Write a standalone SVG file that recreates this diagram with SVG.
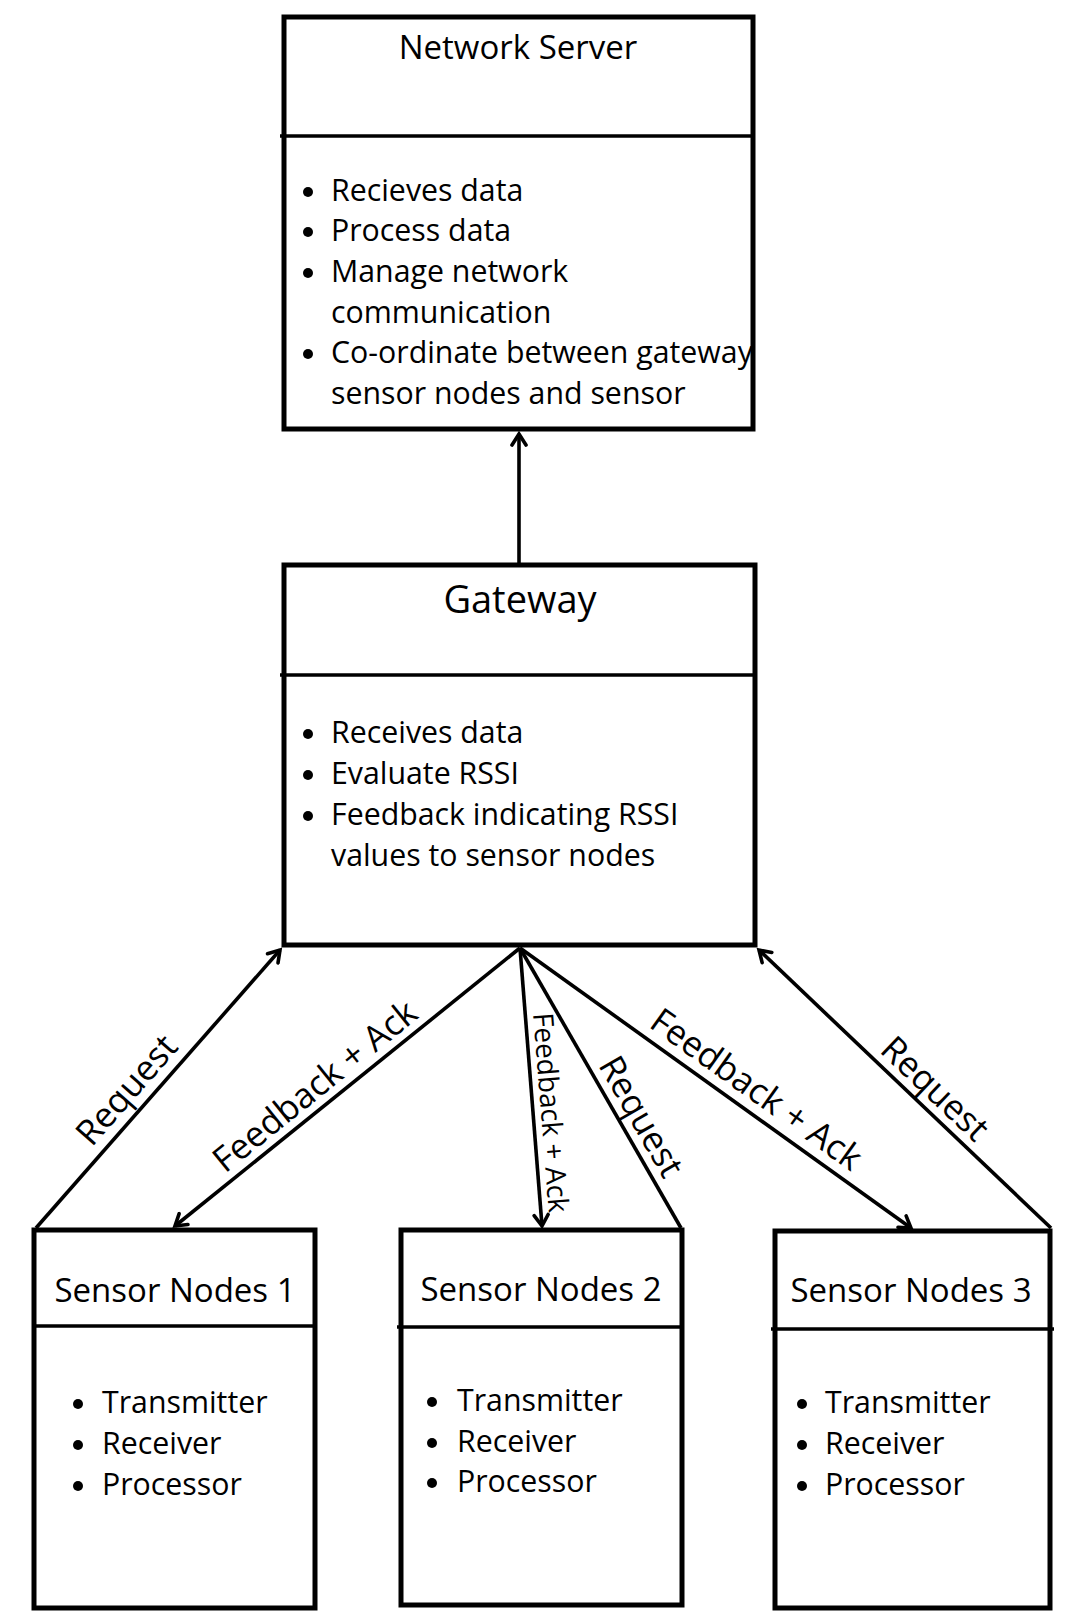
<svg xmlns="http://www.w3.org/2000/svg" width="1080" height="1616" viewBox="0 0 1080 1616">
<defs>
<marker id="arr" markerWidth="18" markerHeight="18" refX="15" refY="9" orient="auto" markerUnits="userSpaceOnUse">
<path d="M4,2 L15,9 L4,16" fill="none" stroke="#000" stroke-width="3.6" stroke-linecap="round" stroke-linejoin="miter"/>
</marker>
<style>
.box{fill:#fff;stroke:#000;stroke-width:5}
.div{stroke:#000;stroke-width:3.5}
.t{font-family:"Open Sans","Liberation Sans",sans-serif;fill:#000}
.title{font-size:33px;text-anchor:middle}
.gt{font-size:38px;text-anchor:middle}
.b{font-size:30.3px}
.lbl{font-size:35px;text-anchor:middle}
.lbls{font-size:28px;text-anchor:middle}
.c{stroke:#000;stroke-width:3.6;fill:none}
</style>
</defs>
<rect width="1080" height="1616" fill="#fff"/>

<g id="network-server">
<rect class="box" x="284" y="17" width="469" height="412"/>
<line class="div" x1="280" y1="136" x2="755" y2="136"/>
<text class="t title" x="518" y="59">Network Server</text>
<g fill="#000"><circle cx="308" cy="192" r="5"/><circle cx="308" cy="232" r="5"/><circle cx="308" cy="273" r="5"/><circle cx="308" cy="354" r="5"/></g>
<text class="t b" x="331" y="201">Recieves data</text>
<text class="t b" x="331" y="241">Process data</text>
<text class="t b" x="331" y="282">Manage network</text>
<text class="t b" x="331" y="323">communication</text>
<text class="t b" x="331" y="363">Co-ordinate between gateway</text>
<text class="t b" x="331" y="404">sensor nodes and sensor</text>
</g>

<g id="gateway">
<rect class="box" x="284" y="565" width="471" height="380"/>
<line class="div" x1="280" y1="675" x2="757" y2="675"/>
<text class="t gt" x="520" y="613">Gateway</text>
<g fill="#000"><circle cx="308" cy="734" r="5"/><circle cx="308" cy="775" r="5"/><circle cx="308" cy="816" r="5"/></g>
<text class="t b" x="331" y="743">Receives data</text>
<text class="t b" x="331" y="784">Evaluate RSSI</text>
<text class="t b" x="331" y="825">Feedback indicating RSSI</text>
<text class="t b" x="331" y="866">values to sensor nodes</text>
</g>

<g id="sensor-nodes-1">
<rect class="box" x="34" y="1230" width="281" height="378"/>
<line class="div" x1="32" y1="1326" x2="317" y2="1326"/>
<text class="t title" x="175" y="1302">Sensor Nodes 1</text>
<g fill="#000"><circle cx="78" cy="1404" r="5"/><circle cx="78" cy="1445" r="5"/><circle cx="78" cy="1486" r="5"/></g>
<text class="t b" x="102" y="1413">Transmitter</text>
<text class="t b" x="102" y="1454">Receiver</text>
<text class="t b" x="102" y="1495">Processor</text>
</g>

<g id="sensor-nodes-2">
<rect class="box" x="401" y="1230" width="281" height="375"/>
<line class="div" x1="397" y1="1327" x2="682" y2="1327"/>
<text class="t title" x="541" y="1301">Sensor Nodes 2</text>
<g fill="#000"><circle cx="432" cy="1402" r="5"/><circle cx="432" cy="1443" r="5"/><circle cx="432" cy="1483" r="5"/></g>
<text class="t b" x="457" y="1411">Transmitter</text>
<text class="t b" x="457" y="1452">Receiver</text>
<text class="t b" x="457" y="1492">Processor</text>
</g>

<g id="sensor-nodes-3">
<rect class="box" x="775" y="1231" width="275" height="377"/>
<line class="div" x1="771" y1="1329" x2="1054" y2="1329"/>
<text class="t title" x="911" y="1302">Sensor Nodes 3</text>
<g fill="#000"><circle cx="802" cy="1404" r="5"/><circle cx="802" cy="1445" r="5"/><circle cx="802" cy="1486" r="5"/></g>
<text class="t b" x="825" y="1413">Transmitter</text>
<text class="t b" x="825" y="1454">Receiver</text>
<text class="t b" x="825" y="1495">Processor</text>
</g>

<g id="connectors">
<line class="c" x1="519" y1="563" x2="519" y2="434" marker-end="url(#arr)"/>
<line class="c" x1="36" y1="1228" x2="280" y2="950" marker-end="url(#arr)"/>
<line class="c" x1="520" y1="948" x2="175" y2="1226" marker-end="url(#arr)"/>
<line class="c" x1="520" y1="948" x2="542" y2="1226" marker-end="url(#arr)"/>
<line class="c" x1="681" y1="1228" x2="520" y2="948"/>
<line class="c" x1="520" y1="948" x2="911" y2="1228" marker-end="url(#arr)"/>
<line class="c" x1="1051" y1="1228" x2="759" y2="950" marker-end="url(#arr)"/>
<text class="t lbl" transform="translate(144,1105) rotate(-48.7)" y="-11">Request</text>
<text class="t lbl" transform="translate(328,1102.5) rotate(-38.9)" y="-9">Feedback + Ack</text>
<text class="t lbls" transform="translate(533,1114) rotate(85.5)" y="-8">Feedback + Ack</text>
<text class="t lbl" transform="translate(623,1127) rotate(60.1)" y="-9">Request</text>
<text class="t lbl" transform="translate(743,1108) rotate(35.6)" y="-11">Feedback + Ack</text>
<text class="t lbl" transform="translate(920.6,1103.8) rotate(43.5)" y="-9">Request</text>
</g>
</svg>
